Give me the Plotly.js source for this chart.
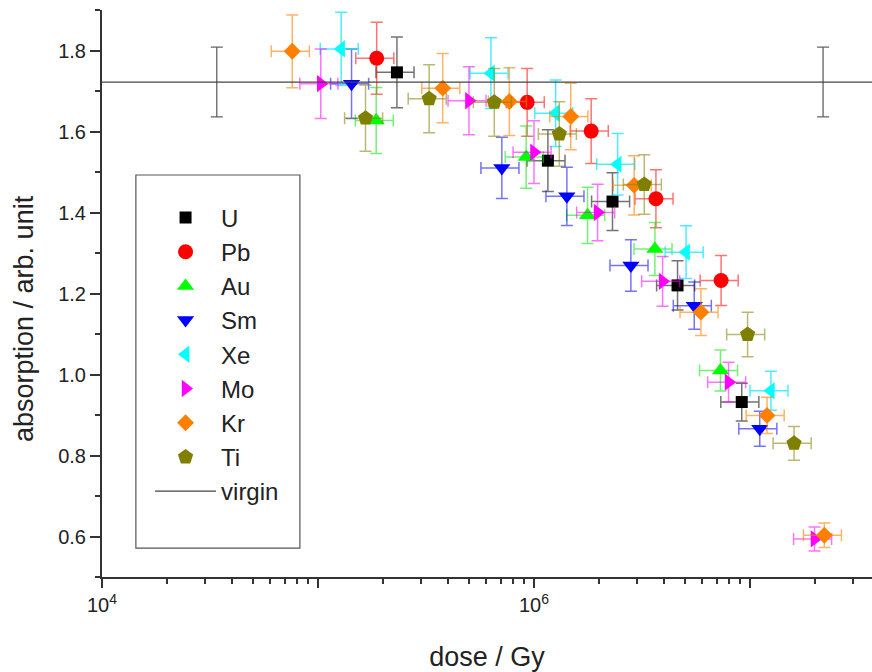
<!DOCTYPE html>
<html>
<head>
<meta charset="utf-8">
<script src="https://cdn.plot.ly/plotly-3.0.1.min.js"></script>
<style>html,body{margin:0;padding:0;background:#fff;}#chart{width:872px;height:672px;}</style>
</head>
<body>
<div id="chart"></div>
<script>
// ---- data (dose in Gy, absorption in arb. units) ----
const uDose  = [2.32e5, 1.16e6, 2.31e6, 4.62e6, 9.16e6];
const uAbs   = [1.746, 1.528, 1.427, 1.220, 0.932];
const pbDose = [1.87e5, 9.3e5, 1.84e6, 3.67e6, 7.35e6];
const pbAbs  = [1.781, 1.672, 1.601, 1.434, 1.232];
const auDose = [1.86e5, 9.2e5, 1.77e6, 3.63e6, 7.3e6];
const auAbs  = [1.627, 1.537, 1.393, 1.310, 1.010];
const smDose = [1.43e5, 7.1e5, 1.42e6, 2.81e6, 5.52e6, 1.11e7];
const smAbs  = [1.718, 1.510, 1.440, 1.269, 1.170, 0.866];
const xeDose = [1.28e5, 6.32e5, 1.26e6, 2.44e6, 5.06e6, 1.25e7];
const xeAbs  = [1.804, 1.744, 1.645, 1.519, 1.302, 0.960];
const moDose = [1.03e5, 5.0e5, 1.0e6, 1.97e6, 3.94e6, 7.96e6, 1.99e7];
const moAbs  = [1.718, 1.676, 1.549, 1.400, 1.230, 0.981, 0.594];
const krDose = [7.6e4, 3.78e5, 7.69e5, 1.48e6, 2.91e6, 5.93e6, 1.2e7, 2.21e7];
const krAbs  = [1.798, 1.707, 1.674, 1.637, 1.467, 1.154, 0.899, 0.603];
const tiDose = [1.66e5, 3.27e5, 6.55e5, 1.31e6, 3.24e6, 9.75e6, 1.6e7];
const tiAbs  = [1.633, 1.681, 1.672, 1.594, 1.469, 1.099, 0.830];
const virginAbs = 1.722;
const virginErrDose = [3.4e4, 2.18e7];
const virginLineDose = [1e3, 1e9];
const doseErrPct = 20;
const absErrPct = 5;
const xMajorUnlabeled = [1e5, 1e7];
const xLabelVals = [1e4, 1e6];
const xLabelText = ['10<sup>4</sup>', '10<sup>6</sup>'];
const yTitle = 'absorption / arb. unit';
const xTitle = 'dose / Gy';

const series = [
  {name:'U',  x:uDose,  y:uAbs,  symbol:'square',         color:'#000000', err:'rgba(0,0,0,0.55)',     size:12},
  {name:'Pb', x:pbDose, y:pbAbs, symbol:'circle',         color:'#ff0000', err:'rgba(255,0,0,0.55)',   size:15},
  {name:'Au', x:auDose, y:auAbs, symbol:'triangle-up',    color:'#00ff00', err:'rgba(0,230,0,0.55)',   size:15},
  {name:'Sm', x:smDose, y:smAbs, symbol:'triangle-down',  color:'#0000ff', err:'rgba(0,0,255,0.55)',   size:15},
  {name:'Xe', x:xeDose, y:xeAbs, symbol:'triangle-left',  color:'#00ffff', err:'rgba(0,230,255,0.7)',  size:15},
  {name:'Mo', x:moDose, y:moAbs, symbol:'triangle-right', color:'#ff00ff', err:'rgba(255,0,255,0.55)', size:15},
  {name:'Kr', x:krDose, y:krAbs, symbol:'diamond',        color:'#ff8000', err:'rgba(255,128,0,0.6)',  size:13},
  {name:'Ti', x:tiDose, y:tiAbs, symbol:'pentagon',       color:'#808000', err:'rgba(128,128,0,0.55)', size:16}
];

const traces = series.map((s, i) => ({
  type:'scatter', mode:'markers', name:s.name, x:s.x, y:s.y,
  legendgroup:'g'+i,
  marker:{symbol:s.symbol, color:s.color, size:s.size, line:{width:0}},
  error_x:{type:'percent', value:doseErrPct, color:s.err, thickness:1.5, width:6},
  error_y:{type:'percent', value:absErrPct, color:s.err, thickness:1.5, width:6}
}));

traces.push({
  type:'scatter', mode:'lines', name:'virgin', legendgroup:'g8',
  x:virginLineDose, y:virginLineDose.map(() => virginAbs),
  xaxis:'x2', line:{color:'#444444', width:1.3}
});
traces.push({
  type:'scatter', mode:'markers', showlegend:false, hoverinfo:'skip',
  x:virginErrDose, y:virginErrDose.map(() => virginAbs),
  xaxis:'x3',
  marker:{size:1, opacity:0},
  error_y:{type:'percent', value:absErrPct, color:'rgba(60,60,60,0.8)', thickness:1.3, width:6}
});

const xMinor = [];
for (let d = 1e4; d <= 1e7; d *= 10) for (let k = 2; k <= 9; k++) xMinor.push(k*d);

const xRange = [4, 7.565];
const font = {family:'Liberation Sans, Arial, sans-serif', color:'#222', size:20};

const layout = {
  width:872, height:672,
  margin:{l:102, r:0, t:10, b:95},
  paper_bgcolor:'#fff', plot_bgcolor:'#fff',
  font:font,
  showlegend:true,
  xaxis:{
    type:'log', range:xRange, showgrid:false, zeroline:false,
    showline:true, linecolor:'#333', linewidth:2,
    tickmode:'array', tickvals:xMinor, ticks:'outside', ticklen:5, tickwidth:2, tickcolor:'#333',
    showticklabels:false
  },
  xaxis2:{
    type:'log', range:xRange, overlaying:'x', anchor:'y', side:'bottom',
    showgrid:false, zeroline:false, showline:false,
    tickmode:'array', tickvals:xMajorUnlabeled,
    ticks:'outside', ticklen:10, tickwidth:2, tickcolor:'#333',
    showticklabels:false
  },
  xaxis3:{
    type:'log', range:xRange, overlaying:'x', anchor:'y', side:'bottom',
    showgrid:false, zeroline:false, showline:false,
    tickmode:'array', tickvals:xLabelVals, ticktext:xLabelText,
    ticks:'outside', ticklen:10, tickwidth:2, tickcolor:'#333',
    tickfont:{size:20, color:'#222'},
    title:{text:xTitle, font:{size:27, color:'#222'}, standoff:60}
  },
  yaxis:{
    range:[0.5, 1.9], showgrid:false, zeroline:false,
    showline:true, linecolor:'#333', linewidth:2,
    tick0:0.6, dtick:0.2, tickformat:'.1f',
    ticks:'outside', ticklen:10, tickwidth:2, tickcolor:'#333',
    tickfont:{size:20, color:'#222'},
    minor:{tick0:0.5, dtick:0.1, ticks:'outside', ticklen:5, tickwidth:2, tickcolor:'#333'}
  },
  annotations:[{
    text:yTitle, textangle:-90, xref:'paper', yref:'paper',
    x:-78/770, y:1 - (319-10)/567, xanchor:'center', yanchor:'middle',
    showarrow:false, font:{size:27, color:'#222'}
  }],
  legend:{
    x:0.0624, y:0.673, xanchor:'left', yanchor:'top',
    bgcolor:'rgba(0,0,0,0)', borderwidth:0,
    font:{size:24, color:'#222'}, tracegroupgap:0, itemwidth:61
  },
  shapes:[{
    type:'rect', xref:'paper', yref:'paper',
    x0:0.044, x1:0.257, y0:0.0511, y1:0.709,
    line:{color:'#555', width:1.2}, fillcolor:'rgba(0,0,0,0)', layer:'below'
  }]
};

Plotly.newPlot('chart', traces, layout, {displayModeBar:false, staticPlot:true});
</script>
</body>
</html>
